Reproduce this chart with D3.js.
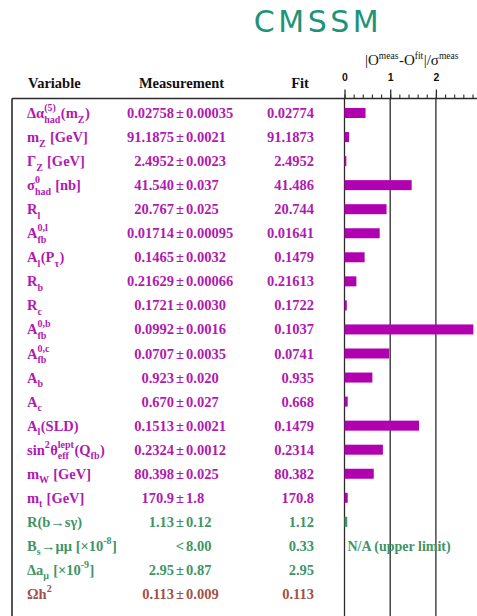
<!DOCTYPE html>
<html>
<head>
<meta charset="utf-8">
<script src="https://cdn.jsdelivr.net/npm/d3@7"></script>
<style>
  body { margin: 0; background: #fff; }
  text { white-space: pre; }
</style>
</head>
<body>
<svg id="chart" width="477" height="616"></svg>
<script>
// ---- data -------------------------------------------------------------
// Labels use a small markup: _{..} subscript, ^{..} superscript (stacked when adjacent)
const variables = [
  "Δα_{had}^{(5)}(m_{Z})",
  "m_{Z} [GeV]",
  "Γ_{Z} [GeV]",
  "σ^{0}_{had} [nb]",
  "R_{l}",
  "A^{0,l}_{fb}",
  "A_{l}(P_{τ})",
  "R_{b}",
  "R_{c}",
  "A^{0,b}_{fb}",
  "A^{0,c}_{fb}",
  "A_{b}",
  "A_{c}",
  "A_{l}(SLD)",
  "sin^{2}θ^{lept}_{eff}(Q_{fb})",
  "m_{W} [GeV]",
  "m_{t} [GeV]",
  "R(b→sγ)",
  "B_{s}→μμ [×10^{-8}]",
  "Δa_{μ} [×10^{-9}]",
  "Ωh^{2}"
];
const measurements = [
  "0.02758 ± 0.00035", "91.1875 ± 0.0021", "2.4952 ± 0.0023", "41.540 ± 0.037",
  "20.767 ± 0.025", "0.01714 ± 0.00095", "0.1465 ± 0.0032", "0.21629 ± 0.00066",
  "0.1721 ± 0.0030", "0.0992 ± 0.0016", "0.0707 ± 0.0035", "0.923 ± 0.020",
  "0.670 ± 0.027", "0.1513 ± 0.0021", "0.2324 ± 0.0012", "80.398 ± 0.025",
  "170.9 ± 1.8", "1.13 ± 0.12", "< 8.00", "2.95 ± 0.87", "0.113 ± 0.009"
];
const fits = [
  "0.02774", "91.1873", "2.4952", "41.486", "20.744", "0.01641", "0.1479",
  "0.21613", "0.1722", "0.1037", "0.0741", "0.935", "0.668", "0.1479",
  "0.2314", "80.382", "170.8", "1.12", "0.33", "2.95", "0.113"
];
// |O_meas - O_fit| / sigma_meas ; null = upper limit only
const pulls = [
  0.46, 0.10, 0.04, 1.47, 0.92, 0.77, 0.44, 0.26, 0.05, 2.82, 0.98,
  0.61, 0.07, 1.63, 0.84, 0.64, 0.07, 0.06, null, 0, 0
];
const groups = [
  "ew","ew","ew","ew","ew","ew","ew","ew","ew","ew","ew",
  "ew","ew","ew","ew","ew","ew","flav","flav","flav","cosmo"
];
const axisTicks = [0, 1, 2, 3];
const minorTicks = d3.range(0, 3.01, 0.2);
const headers = ["Variable", "Measurement", "Fit"];
const title = "CMSSM";
const axisTitle = "|O^{meas}-O^{fit}|/σ^{meas}";
const limitNote = "N/A (upper limit)";

// ---- styling ----------------------------------------------------------
const colors = { ew: "#b01ab0", flav: "#3f9467", cosmo: "#a0524a" };
const barColor = { ew: "#b000b0", flav: "#3f9467", cosmo: "#a0524a" };
const serif = "'Liberation Serif','Times New Roman',serif";
const sans = "'Liberation Sans',Arial,sans-serif";
const lineColor = "#2b2b2b";

const svg = d3.select("#chart");
const W = 477, H = 616;
const topY = 98.5, boxLeft = 12;

const x = d3.scaleLinear().domain([0, 3]).range([344.5, 344.5 + 3 * 45.7]);
const y = d3.scalePoint().domain(d3.range(variables.length)).range([113, 594]);

// ---- rich text helper -------------------------------------------------
function parseMarkup(s) {
  const segs = []; let i = 0, buf = "";
  const flush = () => { if (buf) { segs.push({ t: buf }); buf = ""; } };
  while (i < s.length) {
    const c = s[i];
    if ((c === "_" || c === "^") && s[i + 1] === "{") {
      flush();
      const j = s.indexOf("}", i);
      const txt = s.slice(i + 2, j);
      const key = c === "_" ? "sub" : "sup";
      const last = segs[segs.length - 1];
      if (last && last.script && !last[key]) last[key] = txt;
      else segs.push({ script: true, [key]: txt });
      i = j + 1;
    } else { buf += c; i++; }
  }
  flush();
  return segs;
}

function drawRich(g, str, x0, y0, o) {
  let cx = x0;
  parseMarkup(str).forEach(sg => {
    if (!sg.script) {
      const t = g.append("text").attr("x", cx).attr("y", y0)
        .attr("font-size", o.size).text(sg.t);
      cx += t.node().getComputedTextLength();
    } else {
      let w = 0;
      if (sg.sup) {
        const t = g.append("text").attr("x", cx).attr("y", y0 - o.supShift)
          .attr("font-size", o.small).text(sg.sup);
        w = Math.max(w, t.node().getComputedTextLength());
      }
      if (sg.sub) {
        const t = g.append("text").attr("x", cx).attr("y", y0 + o.subShift)
          .attr("font-size", o.small).text(sg.sub);
        w = Math.max(w, t.node().getComputedTextLength());
      }
      cx += w + 0.5;
    }
  });
  return cx - x0;
}

// ---- title ------------------------------------------------------------
svg.append("text")
  .attr("x", 318).attr("y", 32)
  .attr("text-anchor", "middle")
  .attr("font-family", "'DejaVu Sans',Verdana,sans-serif")
  .attr("font-size", 30)
  .attr("letter-spacing", 3.5)
  .attr("fill", "#1c9479")
  .text(title);

// ---- axis title -------------------------------------------------------
const at = svg.append("g").attr("font-family", serif).attr("fill", "#111");
const atW = drawRich(at, axisTitle, 0, 65, { size: 15, small: 9.5, supShift: 6, subShift: 4 });
at.attr("transform", `translate(${412 - atW / 2},0)`);

// ---- column headers ---------------------------------------------------
const hg = svg.append("g").attr("font-family", serif).attr("font-weight", "bold")
  .attr("font-size", 14.5).attr("fill", "#111");
hg.append("text").attr("x", 28).attr("y", 88).text(headers[0]);
hg.append("text").attr("x", 181.5).attr("y", 88).attr("text-anchor", "middle").text(headers[1]);
hg.append("text").attr("x", 300).attr("y", 88).attr("text-anchor", "middle").text(headers[2]);

// ---- frame & grid -----------------------------------------------------
svg.append("line").attr("x1", boxLeft).attr("x2", W).attr("y1", topY).attr("y2", topY)
  .attr("stroke", lineColor).attr("stroke-width", 1.4);
svg.append("line").attr("x1", boxLeft).attr("x2", boxLeft).attr("y1", topY).attr("y2", H)
  .attr("stroke", lineColor).attr("stroke-width", 1.6);
svg.append("g").selectAll("line").data(axisTicks).join("line")
  .attr("x1", d => x(d)).attr("x2", d => x(d))
  .attr("y1", topY).attr("y2", H)
  .attr("stroke", lineColor).attr("stroke-width", 1.3);

// ---- axis (ticks above the frame line) ---------------------------------
const minorAxis = svg.append("g").attr("transform", `translate(0,${topY})`)
  .call(d3.axisTop(x).tickValues(minorTicks).tickSize(4).tickSizeOuter(0).tickFormat(""));
minorAxis.select(".domain").remove();
minorAxis.selectAll("line").attr("stroke", lineColor).attr("stroke-width", 1.1);

const majorAxis = svg.append("g").attr("transform", `translate(0,${topY})`)
  .call(d3.axisTop(x).tickValues(axisTicks).tickSize(9).tickSizeOuter(0)
    .tickPadding(9).tickFormat(d3.format("d")));
majorAxis.select(".domain").remove();
majorAxis.selectAll("line").attr("stroke", lineColor).attr("stroke-width", 1.3);
majorAxis.selectAll("text").attr("font-family", sans).attr("font-weight", "bold")
  .attr("font-size", 10.5).attr("fill", "#111");

// ---- bars -------------------------------------------------------------
const barH = 10;
svg.append("g").selectAll("rect")
  .data(pulls.map((p, i) => ({ p, i })).filter(d => d.p !== null && d.p > 0))
  .join("rect")
  .attr("x", x(0))
  .attr("y", d => y(d.i) - barH / 2)
  .attr("width", d => x(d.p) - x(0))
  .attr("height", barH)
  .attr("fill", d => barColor[groups[d.i]]);

// ---- rows of text -----------------------------------------------------
const rows = svg.append("g").attr("font-family", serif).attr("font-weight", "bold");
variables.forEach((v, i) => {
  const base = y(i) + 5;
  const col = colors[groups[i]];
  const g = rows.append("g").attr("fill", col);

  drawRich(g, v, 27, base, { size: 14.5, small: 10, supShift: 7, subShift: 4.5 });

  const parts = measurements[i].split(/\s*(±|<)\s*/);
  if (parts[0]) g.append("text").attr("x", 174).attr("y", base)
    .attr("text-anchor", "end").attr("font-size", 14.5).text(parts[0]);
  g.append("text").attr("x", 180).attr("y", base).attr("text-anchor", "middle")
    .attr("font-size", 14.5).text(parts[1]);
  g.append("text").attr("x", 186).attr("y", base)
    .attr("font-size", 14.5).text(parts[2]);

  g.append("text").attr("x", 314).attr("y", base).attr("text-anchor", "end")
    .attr("font-size", 14.5).text(fits[i]);

  if (pulls[i] === null) {
    g.append("text").attr("x", x(0) + 3).attr("y", base)
      .attr("font-size", 14).text(limitNote);
  }
});
</script>
</body>
</html>
